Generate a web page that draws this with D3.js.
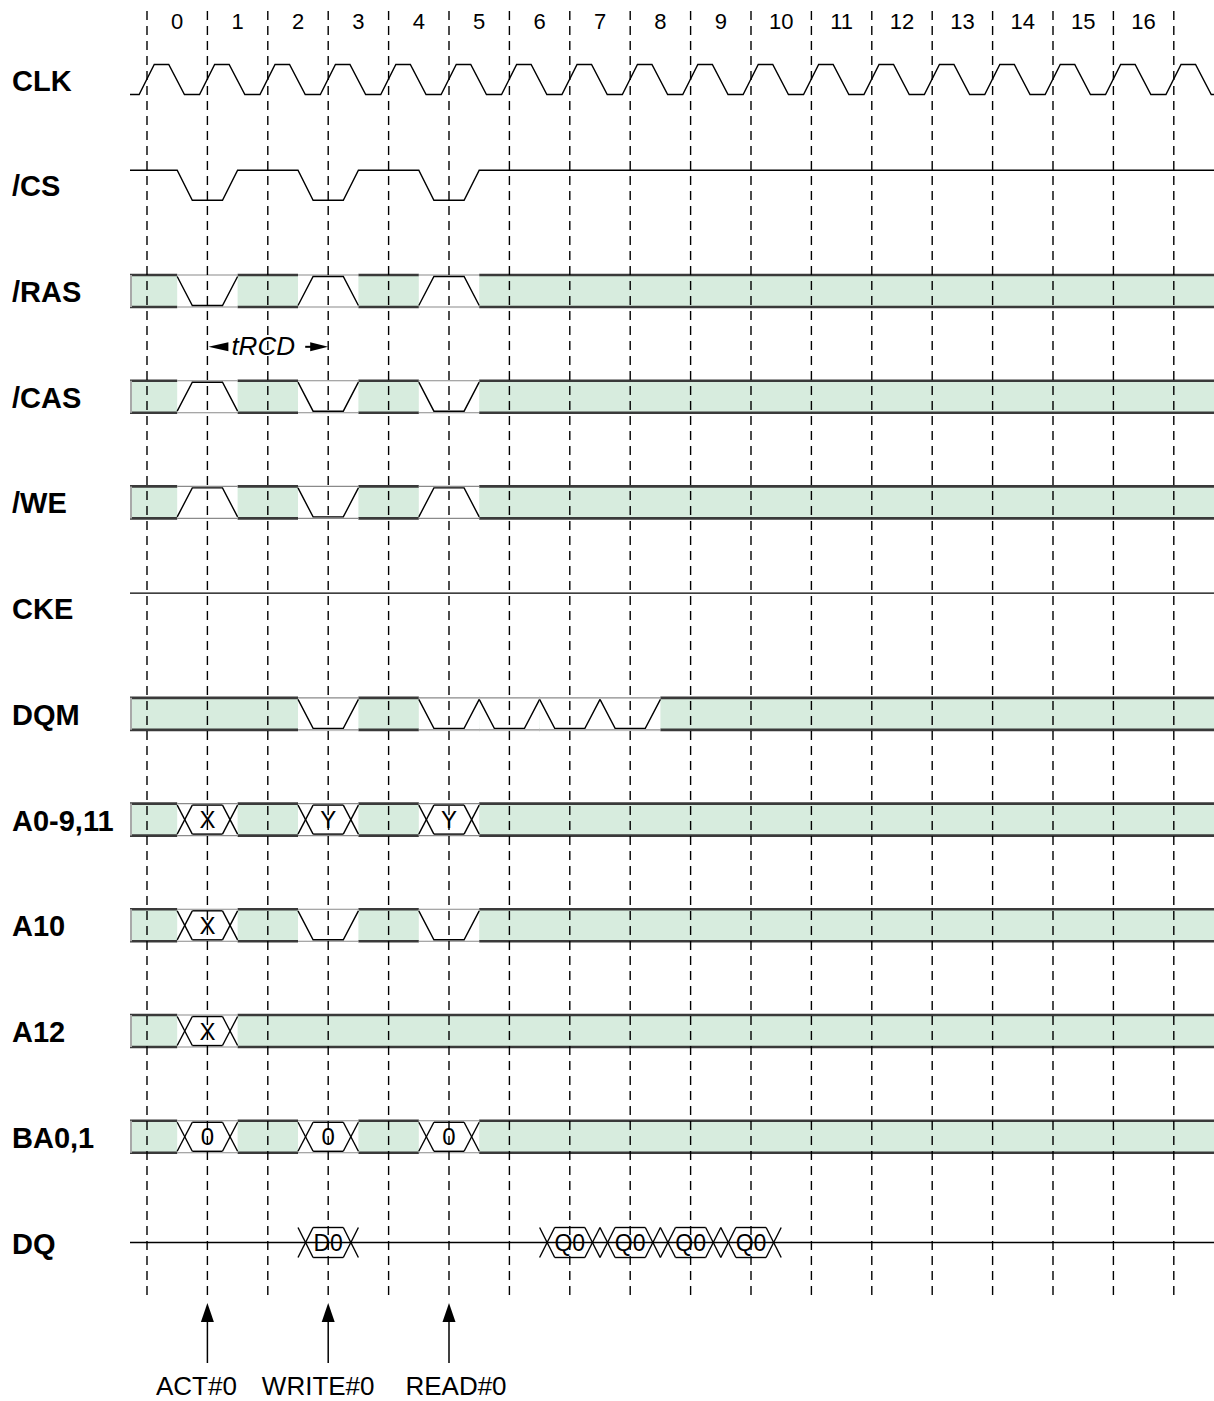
<!DOCTYPE html>
<html><head><meta charset="utf-8">
<script src="https://cdn.jsdelivr.net/npm/d3@7"></script>
<style>
body{margin:0;background:#fff}
svg{display:block}
text{font-family:"Liberation Sans",Arial,Helvetica,sans-serif;fill:#000}
</style>
</head><body>
<svg id="chart" width="1214" height="1401"></svg>
<script>
// ---------- data ----------
const cycleLabels = ["0","1","2","3","4","5","6","7","8","9","10","11","12","13","14","15","16"];
const cycleBoundaries = [0,1,2,3,4,5,6,7,8,9,10,11,12,13,14,15,16,17];
const signalNames = ["CLK","/CS","/RAS","/CAS","/WE","CKE","DQM","A0-9,11","A10","A12","BA0,1","DQ"];
const clockRisingEdges = [0,1,2,3,4,5,6,7,8,9,10,11,12,13,14,15,16,17];
const csLowPulses = [1,3,5];
const ckeLevel = "H";
// bus-style rows: [cycle boundary, kind (L=low pulse, H=high pulse, B=bus value), value]
const rasEvents = [[1,"L"],[3,"H"],[5,"H"]];
const casEvents = [[1,"H"],[3,"L"],[5,"L"]];
const weEvents  = [[1,"H"],[3,"L"],[5,"H"]];
const dqmEvents = [[3,"L"],[5,"L"],[6,"L"],[7,"L"],[8,"L"]];
const addrEvents = [[1,"B","X"],[3,"B","Y"],[5,"B","Y"]];
const a10Events = [[1,"B","X"],[3,"L"],[5,"L"]];
const a12Events = [[1,"B","X"]];
const baEvents  = [[1,"B","0"],[3,"B","0"],[5,"B","0"]];
const dqEvents  = [[3,"D0"],[7,"Q0"],[8,"Q0"],[9,"Q0"],[10,"Q0"]];
const timingSpan = {from:1, to:3, label:"tRCD"};
const commandCycles = [1,3,5];
const commandLabels = ["ACT#0","WRITE#0","READ#0"];

// ---------- layout ----------
const W = 1214, H = 1401;
const svg = d3.select("#chart");
const x = d3.scaleLinear().domain([0,17]).range([147,1173.8]);
const y = d3.scalePoint().domain(signalNames).range([79.5,1242.5]);
const X0 = 130, X1 = W + 4;
const RAIL = 15, BOX = 16;
const GREEN = "#d7ecde";
const WSTROKE = 1.4;
const ln = d3.line();

const gWave = svg.append("g");
const gGrid = svg.append("g");
const gText = svg.append("g");

// signal labels
gText.selectAll("text.sig").data(signalNames).join("text")
  .attr("class","sig")
  .attr("x",12).attr("y",d=>y(d)+11)
  .attr("font-size",29).attr("font-weight","bold")
  .text(d=>d);

// cycle labels
gText.selectAll("text.cyc").data(cycleLabels).join("text")
  .attr("class","cyc")
  .attr("x",(d,i)=>x(i+0.5)).attr("y",28.5)
  .attr("text-anchor","middle").attr("font-size",22)
  .text(d=>d);

// CLK
{
  const cy = y("CLK"), hi = cy-RAIL, lo = cy+RAIL;
  const pts = [[X0,lo]];
  clockRisingEdges.forEach(k=>{
    pts.push([x(k-0.13),lo],[x(k+0.12),hi],[x(k+0.36),hi],[x(k+0.62),lo]);
  });
  pts.push([X1,lo]);
  gWave.append("path").attr("d",ln(pts)).attr("fill","none")
    .attr("stroke","#000").attr("stroke-width",WSTROKE);
}

// /CS
{
  const cy = y("/CS"), hi = cy-RAIL, lo = cy+RAIL;
  const pts = [[X0,hi]];
  csLowPulses.forEach(k=>{
    pts.push([x(k-0.5),hi],[x(k-0.25),lo],[x(k+0.25),lo],[x(k+0.5),hi]);
  });
  pts.push([X1,hi]);
  gWave.append("path").attr("d",ln(pts)).attr("fill","none")
    .attr("stroke","#000").attr("stroke-width",WSTROKE);
}

// CKE
{
  const cy = y("CKE"), lv = ckeLevel==="H" ? cy-RAIL : cy+RAIL;
  gWave.append("path").attr("d",ln([[X0,lv],[X1,lv]]))
    .attr("stroke","#000").attr("stroke-width",WSTROKE);
}

// bus rows
function drawBus(name, events){
  const cy = y(name), top = cy-BOX, bot = cy+BOX, rt = cy-RAIL+0.5, rb = cy+RAIL-0.5;
  const g = gWave.append("g");
  g.append("rect").attr("x",X0).attr("y",top).attr("width",X1-X0).attr("height",bot-top)
    .attr("fill",GREEN);
  g.append("path").attr("d",ln([[X0,top],[X1,top]])).attr("stroke","#3a3a3a").attr("stroke-width",2.6);
  g.append("path").attr("d",ln([[X0,bot],[X1,bot]])).attr("stroke","#3a3a3a").attr("stroke-width",2.6);
  g.append("path").attr("d",ln([[X0+1,top],[X0+1,bot]])).attr("stroke","#a8a8a8").attr("stroke-width",2);
  events.forEach(([k,kind,val])=>{
    const a = x(k-0.5), b = x(k+0.5);
    g.append("rect").attr("x",a).attr("y",top-2).attr("width",b-a).attr("height",bot-top+4).attr("fill","#fff");
    g.append("path").attr("d",ln([[a,top],[b,top]])).attr("stroke","#8a8a8a").attr("stroke-width",1.1);
    g.append("path").attr("d",ln([[a,bot],[b,bot]])).attr("stroke","#8a8a8a").attr("stroke-width",1.1);
    let segs;
    if(kind==="L") segs=[[[a,rt],[x(k-0.25),rb],[x(k+0.25),rb],[b,rt]]];
    else if(kind==="H") segs=[[[a,rb],[x(k-0.25),rt],[x(k+0.25),rt],[b,rb]]];
    else segs = hexSegs(k, rt, rb);
    segs.forEach(s=>g.append("path").attr("d",ln(s)).attr("fill","none")
      .attr("stroke","#000").attr("stroke-width",WSTROKE));
    if(kind==="B"){
      gText.append("text").attr("x",x(k)).attr("y",cy+8.5).attr("text-anchor","middle")
        .attr("font-size",24).text(val);
    }
  });
}
function hexSegs(k, rt, rb){
  const a=x(k-0.5), a2=x(k-0.25), b2=x(k+0.25), b=x(k+0.5);
  return [[[a,rt],[a2,rb]],[[a,rb],[a2,rt]],[[a2,rt],[b2,rt]],[[a2,rb],[b2,rb]],
          [[b2,rt],[b,rb]],[[b2,rb],[b,rt]]];
}
drawBus("/RAS", rasEvents);
drawBus("/CAS", casEvents);
drawBus("/WE", weEvents);
drawBus("DQM", dqmEvents);
drawBus("A0-9,11", addrEvents);
drawBus("A10", a10Events);
drawBus("A12", a12Events);
drawBus("BA0,1", baEvents);

// DQ
{
  const cy = y("DQ"), rt = cy-RAIL, rb = cy+RAIL;
  gWave.append("path").attr("d",ln([[X0,cy],[X1,cy]])).attr("stroke","#000").attr("stroke-width",WSTROKE);
  dqEvents.forEach(([k,val])=>{
    hexSegs(k, rt, rb).forEach(s=>gWave.append("path").attr("d",ln(s)).attr("fill","none")
      .attr("stroke","#000").attr("stroke-width",WSTROKE));
    gText.append("text").attr("x",x(k)).attr("y",cy+8.5).attr("text-anchor","middle")
      .attr("font-size",23).text(val);
  });
}

// dashed grid
gGrid.selectAll("path").data(cycleBoundaries).join("path")
  .attr("d",d=>ln([[x(d),11],[x(d),1296]]))
  .attr("stroke","#000").attr("stroke-width",1.4).attr("stroke-dasharray","9,6");

// tRCD annotation
{
  const ay = (y("/RAS")+y("/CAS"))/2 + 3;
  const xa = x(timingSpan.from), xb = x(timingSpan.to);
  gText.append("path").attr("d",ln([[xa+1,ay],[xa+21,ay-4.5],[xa+21,ay+4.5]])+"Z").attr("fill","#000");
  gText.append("text").attr("x",xa+24).attr("y",ay+8.5).attr("font-size",26)
    .attr("font-style","italic").text(timingSpan.label);
  gText.append("path").attr("d",ln([[xb-23,ay],[xb-16,ay]])).attr("stroke","#000").attr("stroke-width",2);
  gText.append("path").attr("d",ln([[xb,ay],[xb-18,ay-4.5],[xb-18,ay+4.5]])+"Z").attr("fill","#000");
}

// command arrows
{
  const labelDx = [-11,-10,7];
  commandCycles.forEach((k,i)=>{
    const cx = x(k);
    gText.append("path").attr("d",ln([[cx,1363],[cx,1318]])).attr("stroke","#000").attr("stroke-width",1.5);
    gText.append("path").attr("d",ln([[cx,1303],[cx-6.5,1322],[cx+6.5,1322]])+"Z").attr("fill","#000");
    gText.append("text").attr("x",cx+labelDx[i]).attr("y",1395).attr("text-anchor","middle")
      .attr("font-size",26).text(commandLabels[i]);
  });
}
</script>
</body></html>
